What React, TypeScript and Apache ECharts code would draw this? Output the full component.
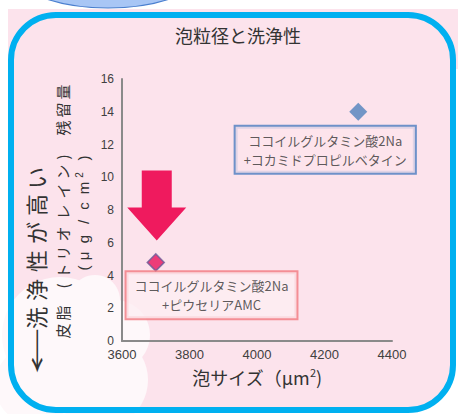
import React, { useEffect, useRef } from "react";
import * as echarts from "echarts";

// ---- data ----
const combos = [
  "ココイルグルタミン酸2Na\n+ピウセリアAMC",
  "ココイルグルタミン酸2Na\n+コカミドプロピルベタイン",
];
const foamSize = [3700, 4300]; // µm²
const residue = [4.8, 14.0]; // µg/cm²
const xRange = [3600, 4400];
const yRange = [0, 16];
const title = "泡粒径と洗浄性";
const xName = "泡サイズ（μm{sup|2})";

const JP = "'Noto Sans CJK JP', 'Noto Sans', sans-serif";
const LAT = "'Liberation Sans', Arial, sans-serif";

type VC = { t: string; y: number; dx?: number; fs?: number; sx?: number };

function vtext(items: VC[], x: number, fontSize: number, color: string, family: string) {
  return items.map((it) => ({
    type: "text",
    x: x + (it.dx || 0),
    y: it.y,
    rotation: Math.PI / 2,
    scaleX: it.sx || 1,
    z: 5,
    style: {
      text: it.t,
      fontSize: it.fs || fontSize,
      fontFamily: family,
      fill: color,
      align: "center",
      verticalAlign: "middle",
      textAlign: "center",
      textVerticalAlign: "middle",
    },
  }));
}

// vertical y-axis title, read bottom to top
const line1: VC[] = [
  { t: "量", y: 92 }, { t: "留", y: 110 }, { t: "残", y: 128 },
  { t: ")", y: 157 }, { t: "ン", y: 172 }, { t: "イ", y: 191 }, { t: "レ", y: 212 },
  { t: "オ", y: 234 }, { t: "リ", y: 253 }, { t: "ト", y: 271 }, { t: "(", y: 286 },
  { t: "脂", y: 313 }, { t: "皮", y: 331 },
];
const line2: VC[] = [
  { t: ")", y: 158 }, { t: "2", y: 175, dx: -4, fs: 10 }, { t: "m", y: 188 },
  { t: "c", y: 206 }, { t: "/", y: 222 }, { t: "g", y: 239 }, { t: "μ", y: 256 },
  { t: "(", y: 268 },
];
const line3: VC[] = [
  { t: "い", y: 178 }, { t: "高", y: 205 }, { t: "が", y: 233 }, { t: "性", y: 261 },
  { t: "浄", y: 290 }, { t: "洗", y: 318 }, { t: "←", y: 351, sx: 2.1 },
];

export default function App() {
  const ref = useRef<HTMLDivElement>(null);
  useEffect(() => {
    document.body.style.margin = "0";
    const chart = echarts.init(ref.current!, null, { renderer: "svg" });
    const labelBase = {
      show: true,
      formatter: "{b}",
      fontSize: 13,
      lineHeight: 19,
      color: "#333",
      fontFamily: JP,
      padding: [4, 8, 4, 8],
      borderWidth: 2,
      align: "center",
      verticalAlign: "middle",
    };
    chart.setOption({
      animation: false,
      title: {
        text: title,
        left: 170,
        top: 21,
        textStyle: { fontSize: 18, fontWeight: "normal", color: "#333", fontFamily: JP },
      },
      grid: { left: 122, top: 79, width: 270, height: 262, outerBoundsMode: "none" },
      xAxis: {
        type: "value",
        min: xRange[0],
        max: xRange[1],
        interval: 200,
        axisLine: { show: true, lineStyle: { color: "#8a8a8a", width: 2 } },
        axisTick: { show: false },
        splitLine: { show: false },
        axisLabel: {
          fontSize: 13,
          color: "#404040",
          margin: 7,
          fontFamily: LAT,
          formatter: (v: number) => String(v),
        },
        name: xName,
        nameLocation: "middle",
        nameGap: 25,
        nameTextStyle: {
          fontSize: 18,
          color: "#333",
          fontFamily: JP,
          lineHeight: 22,
          rich: { sup: { fontSize: 11, lineHeight: 12, verticalAlign: "top", color: "#333", fontFamily: JP } },
        },
      },
      yAxis: {
        type: "value",
        min: yRange[0],
        max: yRange[1],
        interval: 2,
        axisLine: { show: true, lineStyle: { color: "#8a8a8a", width: 2 } },
        axisTick: { show: false },
        splitLine: { show: false },
        axisLabel: { fontSize: 12, color: "#404040", margin: 8, fontFamily: LAT },
      },
      series: [
        {
          type: "scatter",
          symbol: "diamond",
          data: [
            {
              name: combos[0],
              value: [foamSize[0], residue[0]],
              symbolSize: 17,
              itemStyle: { color: "#e8125c", borderColor: "#6b5b98", borderWidth: 1.5 },
              label: { ...labelBase, position: [65, 42], backgroundColor: "#fdeef3", borderColor: "#f1787f" },
            },
            {
              name: combos[1],
              value: [foamSize[1], residue[1]],
              symbolSize: 18,
              itemStyle: { color: "#4f81bd" },
              label: { ...labelBase, position: [-24, 47], backgroundColor: "#fce4ec", borderColor: "#4a7cc0" },
            },
          ],
        },
      ],
    });

    const p = chart.convertToPixel({ seriesIndex: 0 }, [foamSize[0], residue[0]]) as number[];
    const tx = p[0] + 1;
    const ty = p[1] - 22;
    const arrow = {
      type: "polygon",
      z: 10,
      shape: {
        points: [
          [tx - 15, ty - 70], [tx + 15, ty - 70], [tx + 15, ty - 33], [tx + 29.5, ty - 33],
          [tx, ty], [tx - 29.5, ty - 33], [tx - 15, ty - 33],
        ],
      },
      style: { fill: "#ef1a5e" },
    };

    const pink = "#fce3ec";
    const cloud = "#fef8fa";
    const bg = [
      { type: "rect", z: -20, shape: { x: 8, y: 9, width: 450, height: 60 }, style: { fill: pink } },
      { type: "rect", z: -20, shape: { x: 11, y: 15, width: 442, height: 395, r: 45 }, style: { fill: pink } },
      { type: "circle", z: -19, shape: { cx: 60, cy: 335, r: 58 }, style: { fill: cloud } },
      { type: "circle", z: -19, shape: { cx: 115, cy: 335, r: 35 }, style: { fill: cloud } },
      { type: "circle", z: -19, shape: { cx: 100, cy: 380, r: 48 }, style: { fill: cloud } },
      { type: "circle", z: -19, shape: { cx: 35, cy: 385, r: 40 }, style: { fill: cloud } },
      { type: "circle", z: -19, shape: { cx: 95, cy: 300, r: 25 }, style: { fill: cloud } },
      {
        type: "rect",
        z: -18,
        shape: { x: 11, y: 15, width: 442, height: 395, r: 45 },
        style: { fill: "none", stroke: "#00b0f0", lineWidth: 6 },
      },
      {
        type: "ellipse",
        z: -17,
        shape: { cx: 108, cy: -30, rx: 95, ry: 38 },
        style: { fill: "#a8c6f5", stroke: "#4a7fcf", lineWidth: 1.2 },
      },
    ];

    chart.setOption({
      graphic: [
        {
          elements: [
            ...bg,
            arrow,
            ...vtext(line1, 62, 15, "#333", JP),
            ...vtext(line2, 83, 15, "#333", LAT),
            ...vtext(line3, 35, 22, "#333", JP),
          ],
        },
      ],
    });
    return () => chart.dispose();
  }, []);
  return <div ref={ref} style={{ width: 458, height: 414 }} />;
}
